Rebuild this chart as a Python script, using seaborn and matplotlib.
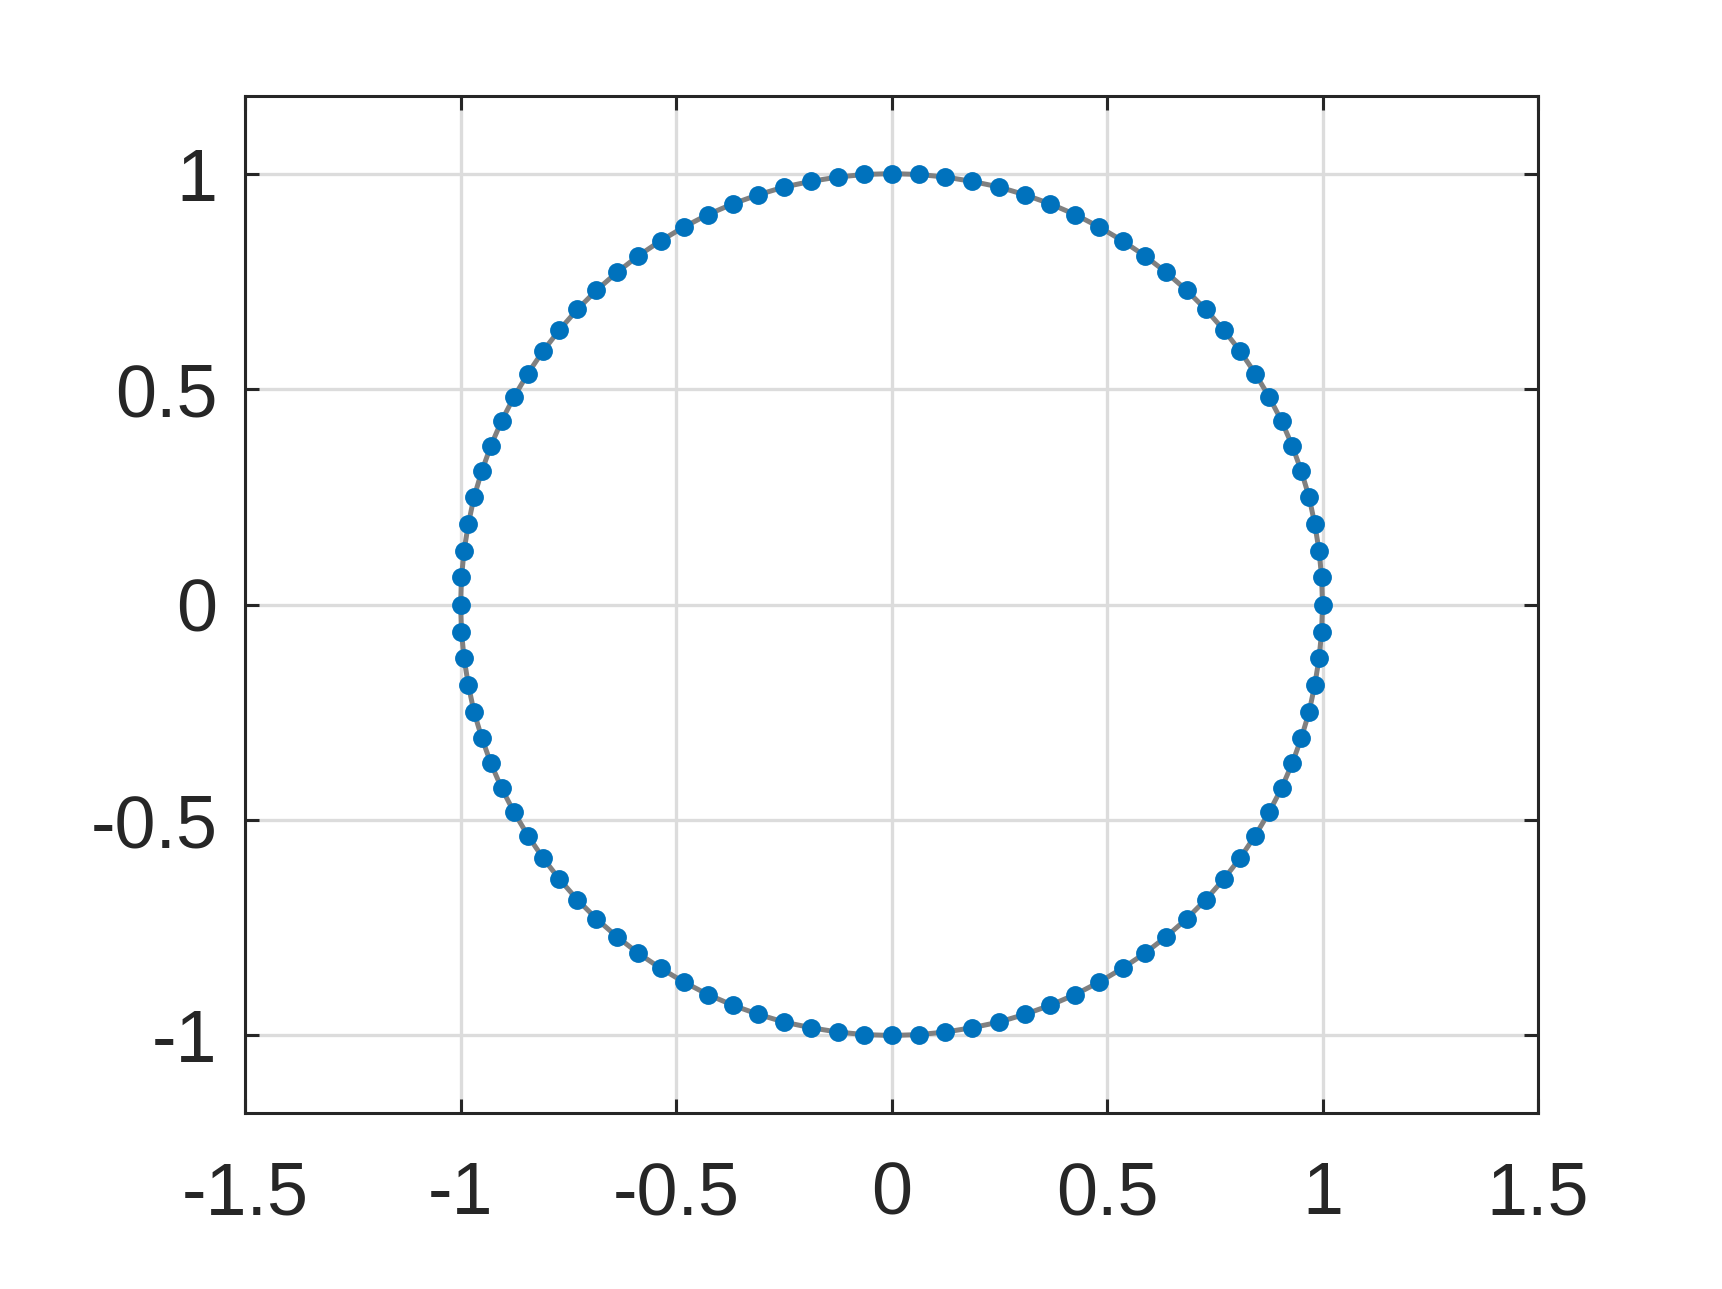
import matplotlib
matplotlib.use("Agg")
import matplotlib.pyplot as plt
import seaborn as sns
import pandas as pd

# points on the unit circle (100 samples, 3.6 deg apart)
x_vals = [1.000, 0.998, 0.992, 0.982, 0.969, 0.951, 0.930, 0.905, 0.876, 0.844,
          0.809, 0.771, 0.729, 0.685, 0.637, 0.588, 0.536, 0.482, 0.426, 0.368,
          0.309, 0.249, 0.187, 0.125, 0.063, 0.000,
          -0.063, -0.125, -0.187, -0.249, -0.309, -0.368, -0.426, -0.482, -0.536, -0.588,
          -0.637, -0.685, -0.729, -0.771, -0.809, -0.844, -0.876, -0.905, -0.930, -0.951,
          -0.969, -0.982, -0.992, -0.998, -1.000,
          -0.998, -0.992, -0.982, -0.969, -0.951, -0.930, -0.905, -0.876, -0.844, -0.809,
          -0.771, -0.729, -0.685, -0.637, -0.588, -0.536, -0.482, -0.426, -0.368, -0.309,
          -0.249, -0.187, -0.125, -0.063, 0.000,
          0.063, 0.125, 0.187, 0.249, 0.309, 0.368, 0.426, 0.482, 0.536, 0.588,
          0.637, 0.685, 0.729, 0.771, 0.809, 0.844, 0.876, 0.905, 0.930, 0.951,
          0.969, 0.982, 0.992, 0.998]
y_vals = [0.000, 0.063, 0.125, 0.187, 0.249, 0.309, 0.368, 0.426, 0.482, 0.536,
          0.588, 0.637, 0.685, 0.729, 0.771, 0.809, 0.844, 0.876, 0.905, 0.930,
          0.951, 0.969, 0.982, 0.992, 0.998, 1.000,
          0.998, 0.992, 0.982, 0.969, 0.951, 0.930, 0.905, 0.876, 0.844, 0.809,
          0.771, 0.729, 0.685, 0.637, 0.588, 0.536, 0.482, 0.426, 0.368, 0.309,
          0.249, 0.187, 0.125, 0.063, 0.000,
          -0.063, -0.125, -0.187, -0.249, -0.309, -0.368, -0.426, -0.482, -0.536, -0.588,
          -0.637, -0.685, -0.729, -0.771, -0.809, -0.844, -0.876, -0.905, -0.930, -0.951,
          -0.969, -0.982, -0.992, -0.998, -1.000,
          -0.998, -0.992, -0.982, -0.969, -0.951, -0.930, -0.905, -0.876, -0.844, -0.809,
          -0.771, -0.729, -0.685, -0.637, -0.588, -0.536, -0.482, -0.426, -0.368, -0.309,
          -0.249, -0.187, -0.125, -0.063]

x_ticks = [-1.5, -1, -0.5, 0, 0.5, 1, 1.5]
x_labels = ['-1.5', '-1', '-0.5', '0', '0.5', '1', '1.5']
y_ticks = [-1, -0.5, 0, 0.5, 1]
y_labels = ['-1', '-0.5', '0', '0.5', '1']

df = pd.DataFrame({'x': x_vals, 'y': y_vals})
# closed outline for the gray line
df_line = pd.concat([df, df.iloc[:1]], ignore_index=True)

sns.set_theme(style="white")
plt.rcParams['font.family'] = ['Liberation Sans', 'DejaVu Sans']
plt.rcParams['axes.unicode_minus'] = False

text_col = '#262626'
fig = plt.figure(figsize=(8.61, 6.445), dpi=200)
ax = fig.add_axes([0.1423, 0.1365, 0.7509, 0.7890])

sns.lineplot(data=df_line, x='x', y='y', sort=False, estimator=None,
             color='#808080', linewidth=1.8, ax=ax, zorder=3)
sns.scatterplot(data=df, x='x', y='y', color='#0072BD', s=46,
                linewidth=0, ax=ax, zorder=4)

ax.set_xlim(-1.5, 1.5)
ax.set_ylim(-1.18, 1.18)
ax.set_aspect('equal', adjustable='box')
ax.set_xticks(x_ticks)
ax.set_xticklabels(x_labels)
ax.set_yticks(y_ticks)
ax.set_yticklabels(y_labels)
ax.set_xlabel('')
ax.set_ylabel('')

ax.grid(True, color='#dcdcdc', linewidth=1.2)
ax.set_axisbelow(True)
for side in ax.spines.values():
    side.set_color(text_col)
    side.set_linewidth(1.1)
    side.set_zorder(5)
ax.tick_params(axis='both', which='major', direction='in', length=5, width=1.1,
               color=text_col, labelcolor=text_col, labelsize=26.5,
               top=True, right=True, bottom=True, left=True)
ax.tick_params(axis='x', pad=17)
ax.tick_params(axis='y', pad=10)

fig.savefig('out.png', dpi=200, facecolor='white')
